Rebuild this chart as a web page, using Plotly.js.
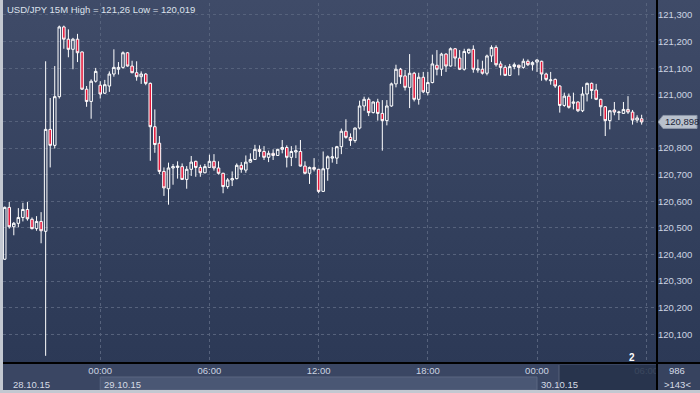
<!DOCTYPE html>
<html>
<head>
<meta charset="utf-8">
<script src="https://cdn.plot.ly/plotly-3.0.1.min.js"></script>
<style>
  html, body { margin:0; padding:0; background:#c3c8d1; }
  #wrap { position:relative; width:700px; height:393px; overflow:hidden;
          background: linear-gradient(to bottom, #3f4b68 0%, #3a4663 25%, #34415e 50%, #2f3c59 75%, #2b3855 100%); }
  #chart { position:absolute; left:0; top:0; width:700px; height:393px; z-index:1; }
  #frame { position:absolute; left:0; top:0; width:700px; height:393px; box-sizing:border-box; z-index:20;
           border-left:3px solid #c3c8d1; border-bottom:3px solid #c3c8d1; pointer-events:none; }
  #hline { position:absolute; left:3px; top:362px; width:697px; height:2px; background:#000000; z-index:10; pointer-events:none; }
  #vline { position:absolute; left:656px; top:0px; width:2px; height:391px; background:#000000; z-index:10; pointer-events:none; }
</style>
</head>
<body>
<div id="wrap"><div id="chart"></div><div id="hline"></div><div id="vline"></div><div id="frame"></div></div>
<script>
// ---- data (USD/JPY, 15 minute candles, first candle 28.10.15 18:45) ----
const startTime = '2015-10-28 18:45';
const open = [120.382,120.577,120.504,120.517,120.539,120.569,120.532,120.497,120.524,120.487,
  120.870,120.810,120.993,121.255,121.209,121.171,121.209,121.161,121.021,120.975,
  121.051,121.036,121.006,121.033,121.078,121.096,121.103,121.158,121.108,121.083,
  121.068,121.078,121.043,120.880,120.818,120.712,120.647,120.725,120.727,120.730,
  120.682,120.720,120.750,120.727,120.707,120.727,120.750,120.725,120.705,120.655,
  120.680,120.685,120.735,120.717,120.747,120.757,120.795,120.787,120.765,120.780,
  120.772,120.795,120.802,120.765,120.785,120.787,120.732,120.705,120.727,120.720,
  120.637,120.722,120.762,120.762,120.805,120.863,120.840,120.828,120.875,120.958,
  120.983,120.933,120.973,120.930,120.903,120.958,121.041,121.096,121.071,121.028,
  121.081,120.983,121.066,121.008,121.046,121.111,121.096,121.153,121.108,121.173,
  121.138,121.096,121.158,121.171,121.093,121.096,121.081,121.146,121.178,121.116,
  121.103,121.073,121.106,121.111,121.103,121.126,121.113,121.123,121.126,121.078,
  121.053,121.058,121.033,120.960,120.995,120.968,120.973,120.940,121.003,121.043,
  121.018,120.983,120.955,120.903,120.943,120.933,120.930,120.945,120.935,120.905,
  120.910];
const high = [120.580,120.597,120.522,120.574,120.594,120.597,120.539,120.544,120.559,121.126,
  120.988,121.108,121.260,121.260,121.246,121.214,121.229,121.163,121.033,121.058,
  121.101,121.051,121.056,121.088,121.171,121.123,121.163,121.161,121.128,121.126,
  121.088,121.081,121.046,120.945,120.845,120.727,120.745,120.740,120.750,120.742,
  120.732,120.770,120.752,120.737,120.740,120.775,120.777,120.750,120.707,120.687,
  120.712,120.742,120.747,120.772,120.780,120.812,120.810,120.807,120.790,120.795,
  120.797,120.830,120.810,120.807,120.810,120.830,120.750,120.730,120.762,120.722,
  120.787,120.772,120.803,120.808,120.873,120.908,120.855,120.877,120.978,120.993,
  120.990,120.975,120.985,120.980,120.980,121.046,121.113,121.101,121.093,121.153,
  121.086,121.083,121.086,121.086,121.151,121.168,121.158,121.156,121.178,121.176,
  121.168,121.173,121.173,121.186,121.133,121.128,121.151,121.186,121.186,121.126,
  121.111,121.116,121.121,121.113,121.136,121.133,121.126,121.133,121.128,121.083,
  121.086,121.061,121.036,121.008,121.005,121.008,120.975,121.030,121.046,121.046,
  121.041,120.985,120.958,120.943,120.973,120.940,120.973,120.995,120.943,120.923,
  120.925];
const low = [120.380,120.497,120.472,120.502,120.524,120.527,120.494,120.489,120.442,120.019,
  120.727,120.798,120.986,121.173,121.141,121.096,121.123,121.018,120.955,120.910,
  121.046,120.986,121.003,121.011,121.068,121.076,121.098,121.106,121.081,121.053,
  121.041,121.036,120.752,120.782,120.702,120.620,120.587,120.662,120.685,120.680,
  120.647,120.695,120.692,120.692,120.705,120.725,120.715,120.700,120.630,120.647,
  120.657,120.682,120.707,120.707,120.745,120.755,120.767,120.755,120.747,120.755,
  120.770,120.780,120.727,120.732,120.762,120.730,120.702,120.665,120.712,120.630,
  120.635,120.677,120.745,120.740,120.777,120.835,120.808,120.820,120.870,120.940,
  120.920,120.930,120.903,120.790,120.885,120.955,121.028,121.041,121.016,120.950,
  120.975,120.963,121.006,120.998,121.043,121.073,121.071,121.086,121.106,121.106,
  121.093,121.091,121.153,121.083,121.083,121.076,121.073,121.123,121.106,121.073,
  121.071,121.071,121.096,121.073,121.098,121.108,121.091,121.086,121.053,121.051,
  121.038,121.026,120.933,120.955,120.948,120.945,120.935,120.935,120.975,120.985,
  120.980,120.920,120.845,120.870,120.923,120.905,120.928,120.928,120.888,120.895,
  120.888];
const close = [120.577,120.504,120.517,120.539,120.569,120.534,120.497,120.524,120.489,120.870,
  120.810,120.993,121.255,121.209,121.171,121.209,121.158,121.021,120.975,121.051,
  121.088,121.003,121.038,121.078,121.103,121.103,121.158,121.108,121.083,121.068,
  121.078,121.043,120.880,120.813,120.712,120.650,120.725,120.730,120.732,120.682,
  120.720,120.747,120.727,120.707,120.730,120.750,120.725,120.705,120.655,120.680,
  120.685,120.735,120.720,120.747,120.757,120.795,120.787,120.765,120.780,120.772,
  120.795,120.802,120.765,120.787,120.790,120.732,120.705,120.727,120.720,120.637,
  120.722,120.767,120.767,120.805,120.863,120.840,120.828,120.875,120.958,120.983,
  120.933,120.973,120.930,120.903,120.958,121.041,121.096,121.068,121.028,121.081,
  120.983,121.066,121.011,121.046,121.116,121.096,121.153,121.108,121.173,121.138,
  121.096,121.163,121.171,121.096,121.098,121.081,121.146,121.178,121.113,121.103,
  121.073,121.106,121.113,121.103,121.126,121.113,121.121,121.131,121.078,121.058,
  121.056,121.033,120.960,120.995,120.953,120.973,120.940,121.003,121.043,121.016,
  120.983,120.955,120.903,120.940,120.935,120.935,120.945,120.935,120.905,120.913,
  120.898];

const xTickVals = ['2015-10-29 00:00','2015-10-29 06:00','2015-10-29 12:00','2015-10-29 18:00','2015-10-30 00:00','2015-10-30 06:00'];
const xTickText = ['00:00','06:00','12:00','18:00','00:00','06:00'];
const yTickVals = [120.1,120.2,120.3,120.4,120.5,120.6,120.7,120.8,120.9,121.0,121.1,121.2,121.3];
// the 120,900 label sits under the last-price tag, as in the reference
const yTickText = ['120,100','120,200','120,300','120,400','120,500','120,600','120,700','120,800','','121,000','121,100','121,200','121,300'];
const dayLabels = ['28.10.15','29.10.15','30.10.15'];
const dayStarts = ['2015-10-28 00:00','2015-10-29 00:00','2015-10-30 00:00'];
const titleText = 'USD/JPY 15M High = 121,26 Low = 120,019';
const lastText = '120,898';
const counterTop = '986';
const counterBottom = '>143<';
const markerText = '2';

// ---- timestamps (15 minute steps) ----
function pad(n){ return (n<10?'0':'')+n; }
const t0 = new Date(startTime.replace(' ','T')+':00Z').getTime();
const times = open.map((_, i) => {
  const d = new Date(t0 + i*15*60000);
  return d.getUTCFullYear()+'-'+pad(d.getUTCMonth()+1)+'-'+pad(d.getUTCDate())+' '+pad(d.getUTCHours())+':'+pad(d.getUTCMinutes());
});

const yRange = [119.992, 121.345];
const xRange = ['2015-10-28 18:39:24', '2015-10-30 06:35:36'];

// pixel helpers for the frame (plot area: x 3..657, y 3..363)
const W = 700, H = 393, ML = 3, MR = 43, MT = 3, MB = 30;
const PW = W-ML-MR, PH = H-MT-MB;
const px = X => (X-ML)/PW;
const py = Y => (MT+PH-Y)/PH;

const font = 'Liberation Sans, Arial, sans-serif';
const txt = '#cdd4e2';

const trace = {
  type:'candlestick', x: times, open: open, high: high, low: low, close: close,
  increasing: { line:{color:'#ffffff', width:1}, fillcolor:'rgba(0,0,0,0)' },
  decreasing: { line:{color:'#ffffff', width:1}, fillcolor:'#e3173a' },
  whiskerwidth: 0, hoverinfo:'skip', showlegend:false
};

const lastVal = close[close.length-1];
const lastPaper = (lastVal - yRange[0])/(yRange[1]-yRange[0]);

const shapes = [
  // bottom axis strip
  {type:'rect', xref:'paper', yref:'paper', x0:px(3), x1:px(700), y0:py(391), y1:py(363),
   fillcolor:'#3a4663', line:{width:0}, layer:'below'},
  // highlighted day box
  {type:'rect', xref:'x', yref:'paper', x0:dayStarts[1], x1:dayStarts[2], y0:py(390), y1:py(377),
   fillcolor:'#4a5774', line:{color:'#5a6681', width:1}, layer:'below'},
  // dark overlay bottom right
  {type:'rect', xref:'paper', yref:'paper', x0:px(559), x1:px(657), y0:py(390), y1:py(365),
   fillcolor:'rgba(38,50,74,0.88)', line:{width:0}, layer:'above'},
  {type:'line', xref:'paper', yref:'paper', x0:px(559), x1:px(559), y0:py(390), y1:py(365),
   line:{color:'#56617a', width:1}, layer:'above'},
  // right-bottom corner cell (hides tick-label overflow past the frame)
  {type:'rect', xref:'paper', yref:'paper', x0:px(658), x1:px(700), y0:py(391), y1:py(364),
   fillcolor:'#37435f', line:{width:0}, layer:'above'},
  // last price tag
  {type:'path', xref:'paper', yref:'paper', xsizemode:'pixel', ysizemode:'pixel',
   xanchor:1, yanchor:lastPaper, path:'M1,0L6,6.5L40,6.5L40,-6.5L6,-6.5Z',
   fillcolor:'#b9c1cd', line:{color:'#8c96a8', width:1}, layer:'above'}
];

const annotations = [
  {xref:'paper', yref:'paper', x:px(5), y:py(9), xanchor:'left', yanchor:'middle', showarrow:false,
   text:titleText, font:{family:font, size:9.5, color:'#dde2ec'}},
  {xref:'paper', yref:'paper', x:px(11), y:py(384), xanchor:'left', yanchor:'middle', showarrow:false,
   text:dayLabels[0], font:{family:font, size:9.5, color:'#d5dbe6'}},
  {xref:'x', yref:'paper', x:dayStarts[1], xshift:2, y:py(384), xanchor:'left', yanchor:'middle', showarrow:false,
   text:dayLabels[1], font:{family:font, size:9.5, color:'#d5dbe6'}},
  {xref:'x', yref:'paper', x:dayStarts[2], xshift:2, y:py(384), xanchor:'left', yanchor:'middle', showarrow:false,
   text:dayLabels[2], font:{family:font, size:9.5, color:'#d5dbe6'}},
  {xref:'paper', yref:'paper', x:px(677), y:py(370), xanchor:'center', yanchor:'middle', showarrow:false,
   text:counterTop, font:{family:font, size:9.5, color:'#d5dbe6'}},
  {xref:'paper', yref:'paper', x:px(677), y:py(384), xanchor:'center', yanchor:'middle', showarrow:false,
   text:counterBottom, font:{family:font, size:9.5, color:'#d5dbe6'}},
  {xref:'paper', yref:'paper', x:px(632), y:py(357), xanchor:'center', yanchor:'middle', showarrow:false,
   text:'<b>'+markerText+'</b>', font:{family:font, size:10, color:'#ffffff'}},
  {xref:'paper', yref:'y', x:1, xshift:6, y:lastVal, xanchor:'left', yanchor:'middle', showarrow:false,
   text:lastText, font:{family:font, size:9.5, color:'#1b2438'}}
];

const layout = {
  width:W, height:H,
  margin:{l:ML, r:MR, t:MT, b:MB, pad:0},
  paper_bgcolor:'rgba(0,0,0,0)', plot_bgcolor:'rgba(0,0,0,0)',
  showlegend:false, boxgap:0.2, dragmode:false, hovermode:false,
  font:{family:font, size:9.5, color:txt},
  xaxis:{type:'date', range:xRange, tickmode:'array', tickvals:xTickVals, ticktext:xTickText,
         showgrid:true, gridcolor:'#56627c', griddash:'3px,3px', gridwidth:1,
         zeroline:false, showline:false, ticks:'', rangeslider:{visible:false}, fixedrange:true,
         tickfont:{family:font, size:9.5, color:txt}},
  yaxis:{side:'right', range:yRange, tickmode:'array', tickvals:yTickVals, ticktext:yTickText,
         showgrid:true, gridcolor:'#56627c', griddash:'3px,3px', gridwidth:1,
         zeroline:false, showline:false, ticks:'', fixedrange:true,
         tickfont:{family:font, size:9.5, color:txt}},
  shapes:shapes, annotations:annotations
};

Plotly.newPlot('chart', [trace], layout, {staticPlot:true, displayModeBar:false});
</script>
</body>
</html>
